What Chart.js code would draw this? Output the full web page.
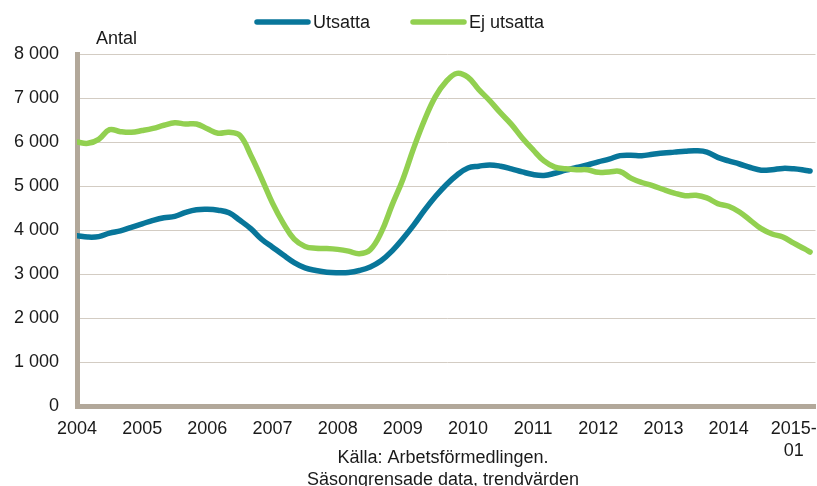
<!DOCTYPE html>
<html>
<head>
<meta charset="utf-8">
<script src="https://cdn.jsdelivr.net/npm/chart.js@4.4.1/dist/chart.umd.min.js"></script>
<style>
  html, body { margin: 0; padding: 0; background: #fff; }
  #wrap { width: 817px; height: 486px; position: relative; }
</style>
</head>
<body>
<div id="wrap"><canvas id="chart"></canvas></div>
<script>
// månader (varannan månad), sista punkten 2015-04
const dates = [
  '2004-01', '2004-03', '2004-05', '2004-07', '2004-09', '2004-11',
  '2005-01', '2005-03', '2005-05', '2005-07', '2005-09', '2005-11',
  '2006-01', '2006-03', '2006-05', '2006-07', '2006-09', '2006-11',
  '2007-01', '2007-03', '2007-05', '2007-07', '2007-09', '2007-11',
  '2008-01', '2008-03', '2008-05', '2008-07', '2008-09', '2008-11',
  '2009-01', '2009-03', '2009-05', '2009-07', '2009-09', '2009-11',
  '2010-01', '2010-03', '2010-05', '2010-07', '2010-09', '2010-11',
  '2011-01', '2011-03', '2011-05', '2011-07', '2011-09', '2011-11',
  '2012-01', '2012-03', '2012-05', '2012-07', '2012-09', '2012-11',
  '2013-01', '2013-03', '2013-05', '2013-07', '2013-09', '2013-11',
  '2014-01', '2014-03', '2014-05', '2014-07', '2014-09', '2014-11',
  '2015-01', '2015-03', '2015-04'
];

const utsatta = [
  3870, 3840, 3850, 3930, 3980, 4060,
  4140, 4220, 4280, 4310, 4400, 4460,
  4470, 4450, 4390, 4220, 4030, 3790,
  3610, 3430, 3260, 3140, 3080, 3040,
  3030, 3035, 3080, 3160, 3300, 3520,
  3800, 4110, 4450, 4760, 5030, 5250,
  5410, 5450, 5480, 5450, 5390, 5320,
  5260, 5240, 5290, 5360, 5420, 5480,
  5550, 5610, 5690, 5700, 5690, 5720,
  5750, 5770, 5790, 5800, 5770, 5650,
  5570, 5500, 5420, 5360, 5370, 5400,
  5390, 5360, 5340
];

const ejUtsatta = [
  6000, 5970, 6060, 6280, 6235, 6220,
  6260, 6310, 6380, 6435, 6410, 6410,
  6300, 6200, 6220, 6150, 5700, 5170,
  4610, 4150, 3790, 3625, 3585, 3580,
  3560, 3520, 3460, 3550, 3940, 4560,
  5150, 5860, 6500, 7030, 7380, 7560,
  7470, 7190, 6940, 6660, 6400, 6090,
  5820, 5570, 5430, 5390, 5370, 5370,
  5310, 5320, 5330, 5180, 5080, 5010,
  4920, 4840, 4780, 4790, 4730, 4600,
  4540, 4410, 4220, 4030, 3910, 3840,
  3700, 3570, 3500
];

const yearTickDates = ['2004-01', '2005-01', '2006-01', '2007-01', '2008-01', '2009-01',
  '2010-01', '2011-01', '2012-01', '2013-01', '2014-01', '2015-01'];
const yearTickLabels = ['2004', '2005', '2006', '2007', '2008', '2009',
  '2010', '2011', '2012', '2013', '2014', ['2015-', '01']];

const blue = '#08769a';
const green = '#92d050';
const axisColor = '#b2a89a';
const gridColor = '#d3ccc3';
const textColor = '#1a1a1a';
const fontFamily = "'Liberation Sans', Arial, sans-serif";

// månadsindex från 2004-01
function monthIndex(d) {
  const parts = d.split('-');
  return (parseInt(parts[0]) - 2004) * 12 + parseInt(parts[1]) - 1;
}

function toPoints(values) {
  return values.map((v, i) => ({ x: monthIndex(dates[i]), y: v }));
}

function formatThousands(v) {
  return String(v).replace(/\B(?=(\d{3})+(?!\d))/g, ' ');
}

const tickMonths = yearTickDates.map(monthIndex);

const textPlugin = {
  id: 'texts',
  afterDraw(chart) {
    const ctx = chart.ctx;
    ctx.save();
    // legend
    const items = [
      { label: 'Utsatta', color: blue, x: 257 },
      { label: 'Ej utsatta', color: green, x: 413 }
    ];
    items.forEach(item => {
      ctx.strokeStyle = item.color;
      ctx.lineWidth = 5.5;
      ctx.lineCap = 'round';
      ctx.beginPath();
      ctx.moveTo(item.x, 22);
      ctx.lineTo(item.x + 51, 22);
      ctx.stroke();
      ctx.fillStyle = textColor;
      ctx.font = '18px ' + fontFamily;
      ctx.textBaseline = 'alphabetic';
      ctx.textAlign = 'left';
      ctx.fillText(item.label, item.x + 56, 28);
    });
    // y-axeltitel
    ctx.fillText('Antal', 96, 44);
    // källa
    ctx.textAlign = 'center';
    ctx.fillText('Källa: Arbetsförmedlingen.', 443, 463);
    ctx.fillText('Säsongrensade data, trendvärden', 443, 485);
    ctx.restore();
  }
};

new Chart(document.getElementById('chart'), {
  type: 'line',
  data: {
    datasets: [
      {
        label: 'Utsatta',
        data: toPoints(utsatta),
        borderColor: blue,
        borderWidth: 5.5,
        order: 1
      },
      {
        label: 'Ej utsatta',
        data: toPoints(ejUtsatta),
        borderColor: green,
        borderWidth: 5.5,
        order: 0
      }
    ]
  },
  options: {
    responsive: true,
    maintainAspectRatio: false,
    animation: false,
    events: [],
    layout: { autoPadding: false, padding: { top: 54, left: 0, right: 1.5, bottom: 0 } },
    elements: {
      point: { radius: 0 },
      line: { tension: 0.4, borderCapStyle: 'round', borderJoinStyle: 'round', fill: false }
    },
    plugins: {
      legend: { display: false },
      tooltip: { enabled: false }
    },
    scales: {
      x: {
        type: 'linear',
        min: 0,
        max: 136,
        afterBuildTicks: scale => {
          scale.ticks = tickMonths.map(v => ({ value: v }));
        },
        afterFit: scale => {
          scale.height = 80;
          scale.paddingLeft = 0;
          scale.paddingRight = 0;
        },
        grid: { display: false, drawTicks: false },
        border: { display: true, color: axisColor, width: 5 },
        ticks: {
          autoSkip: false,
          maxRotation: 0,
          padding: 12,
          color: textColor,
          font: { family: fontFamily, size: 18, lineHeight: 1.22 },
          callback: v => yearTickLabels[tickMonths.indexOf(v)]
        }
      },
      y: {
        min: 0,
        max: 8000,
        afterFit: scale => {
          scale.width = 77;
          scale.paddingTop = 0;
          scale.paddingBottom = 0;
        },
        grid: { color: gridColor, lineWidth: 1, drawTicks: false },
        border: { display: true, color: axisColor, width: 5 },
        ticks: {
          stepSize: 1000,
          padding: 18,
          color: textColor,
          font: { family: fontFamily, size: 18 },
          callback: v => formatThousands(v)
        }
      }
    }
  },
  plugins: [textPlugin]
});
</script>
</body>
</html>
